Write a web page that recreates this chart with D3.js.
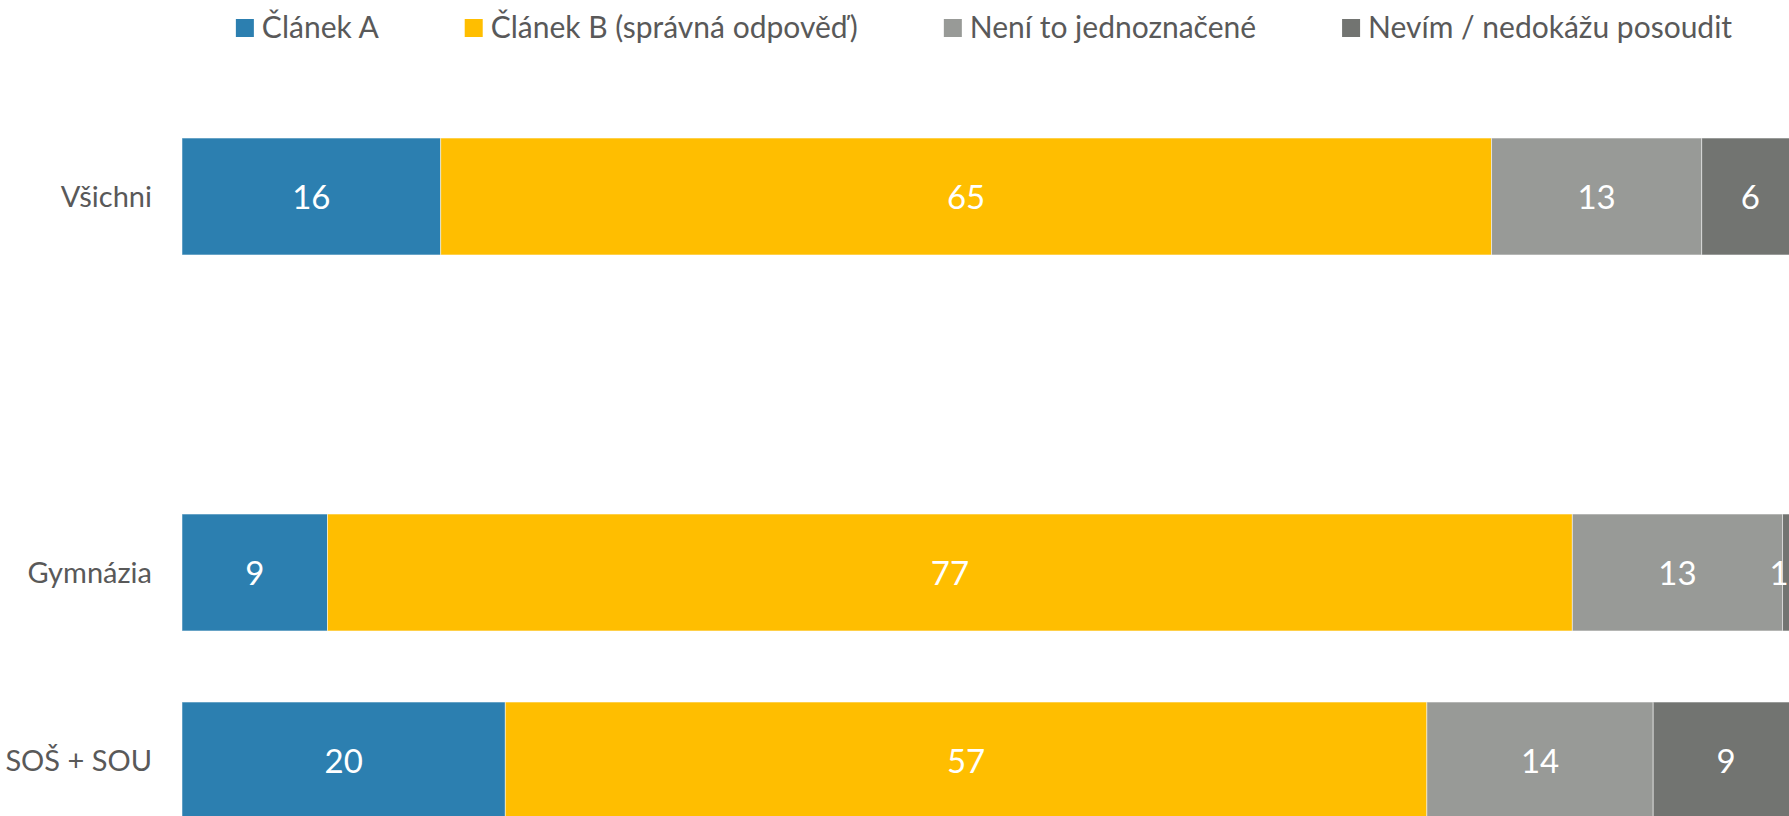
<!DOCTYPE html>
<html>
<head>
<meta charset="utf-8">
<script src="https://cdn.jsdelivr.net/npm/d3@7"></script>
<style>
  html, body { margin: 0; padding: 0; background: #fff; overflow: hidden; }
  svg { display: block; font-family: Lato, "Open Sans", sans-serif; }
</style>
</head>
<body>
<svg id="chart"></svg>
<script>
// categories top to bottom ("" is the empty spacer row between the total and the school types)
const categories = ['Všichni', '', 'Gymnázia', 'SOŠ + SOU'];
const seriesNames = ['Článek A', 'Článek B (správná odpověď)', 'Není to jednoznačené', 'Nevím / nedokážu posoudit'];
const seriesColors = ['#2c7fb0', '#ffbe00', '#989a97', '#727471'];

// percent per category, in series order
const clanekA     = [16, null, 9, 20];
const clanekB     = [65, null, 77, 57];
const nejednoznac = [13, null, 13, 14];
const nevim       = [6, null, 1, 9];

const W = 1789, H = 816;
const svg = d3.select('#chart').attr('width', W).attr('height', H);

const rows = categories.map((c, i) => ({
  cat: c,
  vals: [clanekA[i], clanekB[i], nejednoznac[i], nevim[i]]
}));

const x = d3.scaleLinear().domain([0, 100]).range([182, 1798.7]);
const y = d3.scaleBand().domain(categories)
  .range([102.5, 854.5])
  .paddingInner(0.378)
  .paddingOuter(0.189);

// --------------------------------------------------
// Stacked bars
// --------------------------------------------------
const stacked = d3.stack()
  .keys([0, 1, 2, 3])
  .value((d, k) => d.vals[k] || 0)(rows.filter(r => r.cat !== ''));

const layers = svg.append('g').selectAll('g')
  .data(stacked)
  .enter().append('g')
  .attr('fill', d => seriesColors[d.key]);

layers.selectAll('rect')
  .data(d => d)
  .enter().append('rect')
  .attr('x', d => x(d[0]))
  .attr('y', d => y(d.data.cat))
  .attr('width', d => x(d[1]) - x(d[0]))
  .attr('height', y.bandwidth())
  .attr('stroke', '#fff')
  .attr('stroke-opacity', 0.5)
  .attr('stroke-width', 1);

// value labels, kept inside the chart area like Excel does
layers.selectAll('text')
  .data(d => d)
  .enter().append('text')
  .attr('x', d => Math.min((x(d[0]) + x(d[1])) / 2, W - 10))
  .attr('y', d => y(d.data.cat) + y.bandwidth() / 2 + 12)
  .attr('text-anchor', 'middle')
  .attr('fill', '#fff')
  .attr('font-size', 33)
  .text(d => d[1] - d[0]);

// --------------------------------------------------
// Category labels
// --------------------------------------------------
svg.append('g').selectAll('text')
  .data(categories.filter(c => c !== ''))
  .enter().append('text')
  .attr('x', 152)
  .attr('y', d => y(d) + y.bandwidth() / 2 + 10.5)
  .attr('text-anchor', 'end')
  .attr('fill', '#595959')
  .attr('font-size', 29)
  .text(d => d);

// --------------------------------------------------
// Legend
// --------------------------------------------------
const legend = svg.append('g');
let lx = 0;
seriesNames.forEach((name, i) => {
  const item = legend.append('g').attr('transform', `translate(${lx},0)`);
  item.append('rect')
    .attr('x', 0).attr('y', 19)
    .attr('width', 18).attr('height', 18)
    .attr('fill', seriesColors[i]);
  const t = item.append('text')
    .attr('x', 26).attr('y', 38)
    .attr('fill', '#595959')
    .attr('font-size', 30)
    .text(name);
  lx += 26 + t.node().getComputedTextLength() + 86;
});
const legendW = lx - 86;
legend.attr('transform', `translate(${984 - legendW / 2},0)`);
</script>
</body>
</html>
